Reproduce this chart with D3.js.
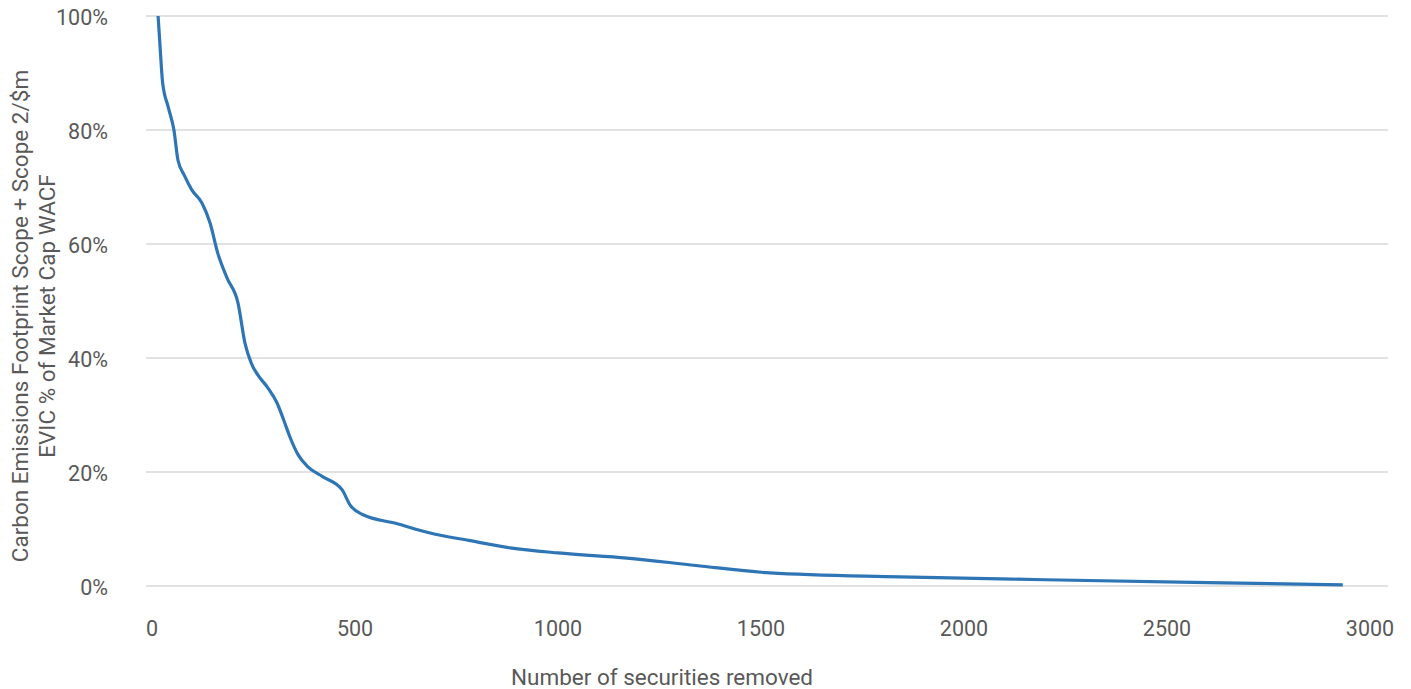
<!DOCTYPE html>
<html>
<head>
<meta charset="utf-8">
<script src="https://cdn.jsdelivr.net/npm/d3@7"></script>
<style>
  html, body { margin: 0; padding: 0; background: #fff; }
  svg { display: block; font-family: Roboto, "Liberation Sans", sans-serif; }
</style>
</head>
<body>
<svg id="chart" width="1411" height="689"></svg>
<script>
// ---- data ----
const securitiesRemoved = [15, 20, 26, 40, 54, 64, 80, 98, 123, 143, 162, 185, 212, 229, 245, 261, 285, 308, 325, 340, 360, 384, 420, 468, 488, 520, 600, 685, 780, 882, 1000, 1170, 1340, 1522, 1842, 2200, 2600, 2933];
const wacfPct = [100, 94.5, 88.4, 84, 80, 74.7, 72, 69.5, 67.2, 63.7, 58.4, 54, 49.6, 42.6, 39, 37, 34.8, 32.1, 29, 26.1, 23, 20.9, 19.2, 16.9, 14.2, 12.5, 11, 9.3, 8, 6.7, 5.8, 4.9, 3.6, 2.3, 1.6, 1.1, 0.6, 0.2];
const xTicks = [0, 500, 1000, 1500, 2000, 2500, 3000];
const yTicks = [0, 20, 40, 60, 80, 100];
const yTitleLines = ["Carbon Emissions Footprint Scope + Scope 2/$m", "EVIC % of Market Cap WACF"];
const xTitle = "Number of securities removed";

// ---- layout ----
const svg = d3.select("#chart");
const gridLeft = 146, gridRight = 1388;
const x = d3.scaleLinear().domain([0, 3000]).range([152, 1370]);
const y = d3.scaleLinear().domain([0, 100]).range([586, 16]);
const textColor = "#595959";

// gridlines
svg.append("g").selectAll("line").data(yTicks).join("line")
  .attr("x1", gridLeft).attr("x2", gridRight)
  .attr("y1", d => y(d)).attr("y2", d => y(d))
  .attr("stroke", "#d9d9d9").attr("stroke-width", 1.3);

// y tick labels
svg.append("g").selectAll("text").data(yTicks).join("text")
  .attr("x", 108).attr("y", d => y(d) + 1.5).attr("dy", "0.35em")
  .attr("text-anchor", "end").attr("font-size", 21.5).attr("fill", textColor)
  .text(d => d + "%");

// x tick labels
svg.append("g").selectAll("text").data(xTicks).join("text")
  .attr("x", d => x(d)).attr("y", 628).attr("dy", "0.35em")
  .attr("text-anchor", "middle").attr("font-size", 21.5).attr("fill", textColor)
  .text(d => d);

// axis titles
svg.append("text")
  .attr("x", 662).attr("y", 677).attr("dy", "0.35em")
  .attr("text-anchor", "middle").attr("font-size", 22.5).attr("fill", textColor)
  .text(xTitle);

const yt = svg.append("text")
  .attr("transform", "translate(20,316) rotate(-90)")
  .attr("text-anchor", "middle").attr("font-size", 22.5).attr("fill", textColor);
yTitleLines.forEach((t, i) => {
  yt.append("tspan").attr("x", 0).attr("y", i * 27).attr("dy", "0.35em").text(t);
});

// line
const pts = securitiesRemoved.map((v, i) => [v, wacfPct[i]]);
const line = d3.line().x(d => x(d[0])).y(d => y(d[1])).curve(d3.curveMonotoneX);
svg.append("path").datum(pts)
  .attr("d", line).attr("fill", "none")
  .attr("stroke", "#2e75b6").attr("stroke-width", 3.2)
  .attr("stroke-linejoin", "round");
</script>
</body>
</html>
